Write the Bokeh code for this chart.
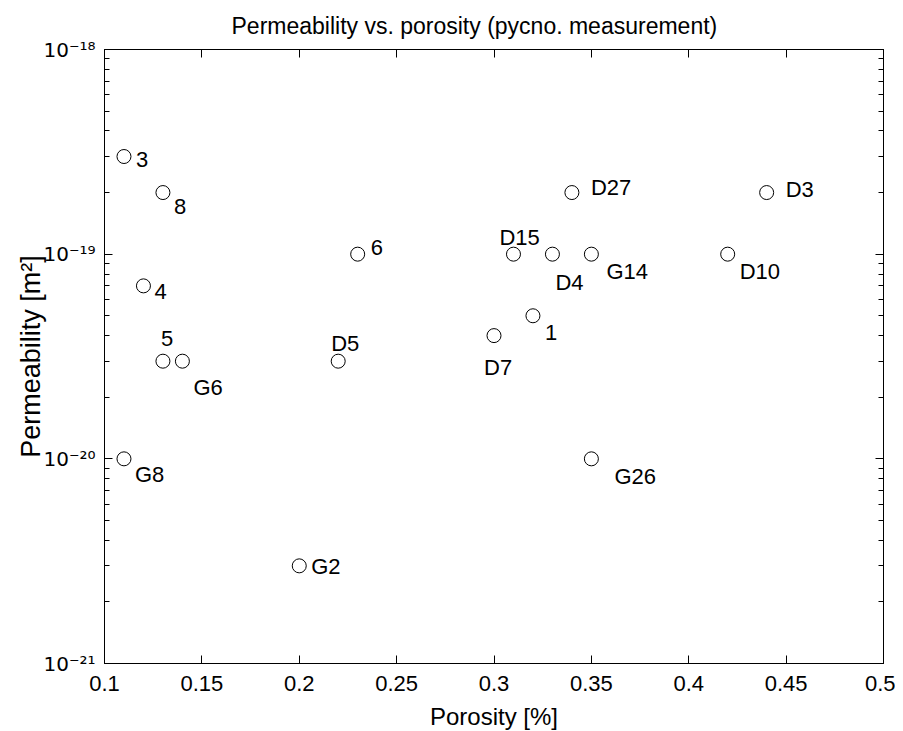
from bokeh.plotting import figure
from bokeh.models import (ColumnDataSource, LabelSet, FixedTicker, LinearAxis,
                          LogAxis, Range1d)
from bokeh.core.properties import value
from bokeh.embed import file_html
from bokeh.resources import INLINE

# ---- data ----
samples = ["3", "8", "4", "5", "G6", "G8", "G2", "D5", "6", "D7", "1",
           "D15", "D4", "G14", "D27", "D3", "D10", "G26"]
porosity = [0.11, 0.13, 0.12, 0.13, 0.14, 0.11, 0.20, 0.22, 0.23, 0.30, 0.32,
            0.31, 0.33, 0.35, 0.34, 0.44, 0.42, 0.35]
permeability = [3e-19, 2e-19, 7e-20, 3e-20, 3e-20, 1e-20, 3e-21, 3e-20, 1e-19,
                4e-20, 5e-20, 1e-19, 1e-19, 1e-19, 2e-19, 2e-19, 1e-19, 1e-20]
# label offsets in screen pixels (right, down) from the marker
label_dx = [12, 11, 11, -2, 11, 11, 12, -7, 13, -10, 12,
            -14, 3, 15, 19, 19, 12, 23]
label_dy = [3, 14, 6, -23, 26, 16, 1, -18, -7, 32, 17,
            -17, 28, 17, -5, -3, 17, 18]

x_ticks = [0.1, 0.15, 0.2, 0.25, 0.3, 0.35, 0.4, 0.45, 0.5]
x_tick_labels = ["0.1", "0.15", "0.2", "0.25", "0.3", "0.35", "0.4", "0.45", "0.5"]
y_ticks = [1e-21, 1e-20, 1e-19, 1e-18]
y_tick_labels = ["10⁻²¹", "10⁻²⁰", "10⁻¹⁹", "10⁻¹⁸"]

title_text = "Permeability vs. porosity (pycno. measurement)"
x_label = "Porosity [%]"
y_label = "Permeability [m²]"

FONT = "Liberation Sans"

p = figure(frame_width=779, frame_height=614,
           min_border_left=104, min_border_right=12, min_border_top=48,
           min_border_bottom=60,
           x_range=Range1d(x_ticks[0], x_ticks[-1]),
           y_range=Range1d(y_ticks[0], y_ticks[-1]),
           y_axis_type="log", output_backend="svg", toolbar_location=None,
           title=title_text)

p.background_fill_color = "white"
p.border_fill_color = "white"
p.outline_line_color = "black"
p.outline_line_width = 1
p.xgrid.visible = False
p.ygrid.visible = False

p.title.text_font = FONT
p.title.text_font_size = "23px"
p.title.text_font_style = "normal"
p.title.align = "left"
p.title.offset = 127
p.title.text_color = "black"
p.title.standoff = 21

minor_y = [m * 10.0 ** e for e in (-21, -20, -19) for m in range(2, 10)]


def style_x(ax, labels=True):
    ax.ticker = FixedTicker(ticks=x_ticks)
    ax.major_label_overrides = {v: (t if labels else "") for v, t in zip(x_ticks, x_tick_labels)}
    ax.major_tick_in = 8
    ax.major_tick_out = 0
    ax.minor_tick_line_color = None
    ax.axis_line_color = "black"
    ax.major_tick_line_color = "black"
    ax.major_label_text_font = FONT
    ax.major_label_text_font_size = "22px"
    ax.major_label_text_color = "black"


def style_y(ax, labels=True):
    ax.ticker = FixedTicker(ticks=y_ticks, minor_ticks=minor_y)
    ax.major_label_overrides = {v: (t if labels else "") for v, t in zip(y_ticks, y_tick_labels)}
    ax.major_tick_in = 8
    ax.major_tick_out = 0
    ax.minor_tick_in = 5
    ax.minor_tick_out = 0
    ax.axis_line_color = "black"
    ax.major_tick_line_color = "black"
    ax.minor_tick_line_color = "black"
    ax.major_label_text_font = "DejaVu Sans"
    ax.major_label_text_font_size = "20px"
    ax.major_label_text_color = "black"


xa = p.xaxis[0]
style_x(xa)
xa.major_label_standoff = 12
xa.axis_label = x_label
xa.axis_label_text_font = FONT
xa.axis_label_text_font_size = "24px"
xa.axis_label_text_font_style = "normal"
xa.axis_label_text_color = "black"
xa.axis_label_standoff = 9

ya = p.yaxis[0]
style_y(ya)
ya.major_label_standoff = 9
ya.axis_label = y_label
ya.axis_label_text_font = FONT
ya.axis_label_text_font_size = "27px"
ya.axis_label_text_font_style = "normal"
ya.axis_label_text_color = "black"
ya.axis_label_standoff = -6

top = LinearAxis()
style_x(top, labels=False)
top.major_label_standoff = 0
top.major_label_text_font_size = "1px"
p.add_layout(top, "above")

right = LogAxis()
style_y(right, labels=False)
right.major_label_standoff = 0
right.major_label_text_font_size = "1px"
p.add_layout(right, "right")

# data
src = ColumnDataSource(dict(x=porosity, y=permeability, name=samples,
                            dx=label_dx, dy=[-d for d in label_dy]))
p.scatter("x", "y", source=src, marker="circle", size=14, fill_color=None,
          line_color="black", line_width=1)
p.add_layout(LabelSet(x="x", y="y", text="name", source=src, x_offset="dx", y_offset="dy",
                      text_align="left", text_baseline="middle",
                      text_font=value(FONT), text_font_size=value("22px"),
                      text_color="black"))

open("out.html", "w").write(file_html(p, INLINE))
